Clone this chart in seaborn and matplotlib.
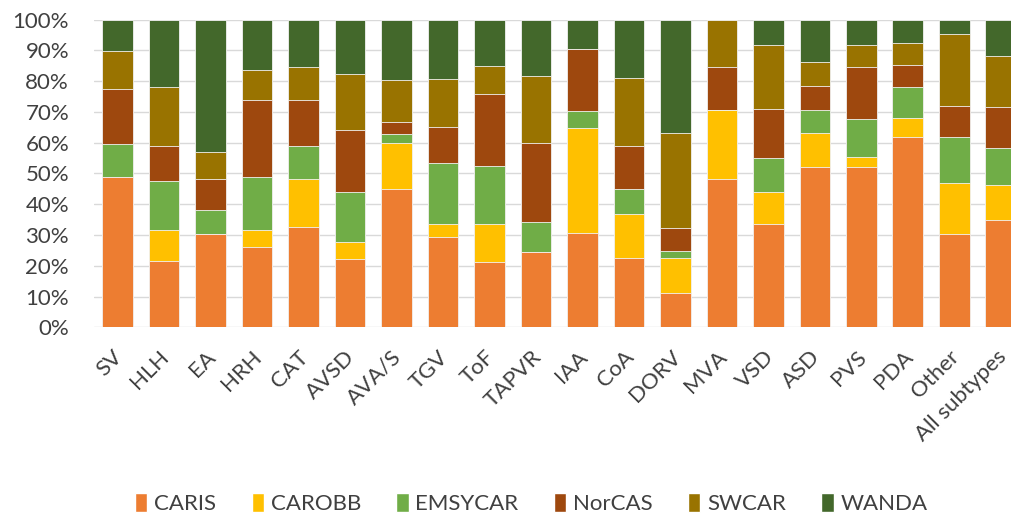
import pandas as pd
import matplotlib.pyplot as plt
import matplotlib.transforms as mtransforms
import seaborn as sns
from matplotlib.patches import Patch
from matplotlib.ticker import PercentFormatter

# Subtypes on the x axis
subtypes = ["SV", "HLH", "EA", "HRH", "CAT", "AVSD", "AVA/S", "TGV", "ToF", "TAPVR",
            "IAA", "CoA", "DORV", "MVA", "VSD", "ASD", "PVS", "PDA", "Other", "All subtypes"]

# Share (%) of each registry per subtype
caris   = [48.8, 21.6, 30.4, 26.2, 32.6, 22.1, 45.0, 29.4, 21.1, 24.5,
           30.8, 22.6, 11.1, 48.3, 33.6, 52.0, 52.0, 62.0, 30.4, 34.9]
carobb  = [0.0, 10.1, 0.0, 5.5, 15.6, 5.6, 14.8, 4.2, 12.4, 0.0,
           34.0, 14.2, 11.5, 22.4, 10.5, 11.3, 3.5, 6.0, 16.5, 11.5]
emsycar = [10.9, 16.0, 7.8, 17.0, 10.6, 16.4, 3.1, 19.7, 18.9, 9.6,
           5.5, 8.2, 2.3, 0.0, 11.0, 7.4, 12.1, 10.0, 15.1, 12.0]
norcas  = [17.8, 11.1, 10.1, 25.3, 15.2, 20.2, 3.7, 11.9, 23.3, 25.7,
           20.2, 13.8, 7.3, 13.8, 16.0, 7.8, 16.9, 7.4, 10.1, 13.2]
swcar   = [12.4, 19.2, 8.6, 9.5, 10.5, 17.9, 13.8, 15.6, 9.2, 21.9,
           0.0, 22.4, 31.1, 15.5, 20.7, 7.8, 7.3, 6.9, 23.3, 16.5]
wanda   = [10.1, 22.0, 43.1, 16.5, 15.5, 17.8, 19.6, 19.2, 15.1, 18.3,
           9.5, 18.8, 36.7, 0.0, 8.2, 13.7, 8.2, 7.7, 4.6, 11.9]

registries = ["CARIS", "CAROBB", "EMSYCAR", "NorCAS", "SWCAR", "WANDA"]
colors = ["#ED7D31", "#FFC000", "#70AD47", "#9E480E", "#997300", "#43682B"]

df = pd.DataFrame({"Subtype": subtypes, "CARIS": caris, "CAROBB": carobb,
                   "EMSYCAR": emsycar, "NorCAS": norcas, "SWCAR": swcar, "WANDA": wanda})

# normalise to 100% and build cumulative sums for stacking
vals = df[registries]
vals = vals.div(vals.sum(axis=1), axis=0) * 100
cum = vals.cumsum(axis=1)
cum["Subtype"] = df["Subtype"]

sns.set_style("white")
plt.rcParams["font.family"] = ["Lato", "DejaVu Sans"]

fig = plt.figure(figsize=(10.12, 5.21), dpi=100)
ax = fig.add_axes([0.093, 0.3718, 0.907, 0.5904])

# draw from the top segment down so each layer covers the one below
for reg, col in reversed(list(zip(registries, colors))):
    sns.barplot(data=cum, x="Subtype", y=reg, color=col, width=0.66, saturation=1,
                edgecolor="#f2f2f2", linewidth=0.6, ax=ax, zorder=3)

ax.set_ylim(0, 100)
ax.set_xlim(-0.5, 19.24)
ax.set_yticks(range(0, 101, 10))
ax.yaxis.set_major_formatter(PercentFormatter(decimals=0))
ax.grid(axis="y", color="#d9d9d9", linewidth=1, zorder=0)
ax.set_axisbelow(True)
sns.despine(ax=ax, left=True, bottom=True, top=True, right=True)
ax.set_xlabel("")
ax.set_ylabel("")
ax.tick_params(axis="both", length=0, labelsize=16, colors="#404040")
ax.tick_params(axis="y", pad=18)
ax.tick_params(axis="x", pad=14)

# rotated labels, nudged a little to the left
offset = mtransforms.ScaledTranslation(-5 / 100, 0, fig.dpi_scale_trans)
for lab in ax.get_xticklabels():
    lab.set_rotation(45)
    lab.set_ha("right")
    lab.set_rotation_mode("anchor")
    lab.set_transform(lab.get_transform() + offset)

handles = [Patch(facecolor=c, label=r) for r, c in zip(registries, colors)]
fig.legend(handles=handles, loc="lower center", bbox_to_anchor=(0.525, -0.025), ncol=6,
           frameon=False, fontsize=16, handlelength=0.55, handleheight=0.9,
           handletextpad=0.3, columnspacing=1.6, labelcolor="#404040")

plt.savefig("out.png", dpi=100)
plt.close()
